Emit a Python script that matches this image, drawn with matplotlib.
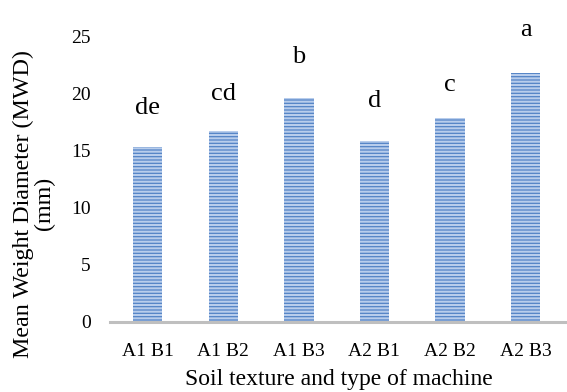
import matplotlib
matplotlib.use("Agg")
import matplotlib.pyplot as plt

# Mean weight diameter per soil texture / machine combination
groups = ["A1 B1", "A1 B2", "A1 B3", "A2 B1", "A2 B2", "A2 B3"]
mwd = [15.3, 16.7, 19.6, 15.9, 17.9, 21.8]
letters = ["de", "cd", "b", "d", "c", "a"]
letter_heights = [18.8, 20.0, 23.2, 19.4, 20.8, 25.6]
yticks = [0, 5, 10, 15, 20, 25]

plt.rcParams["font.family"] = ["Liberation Serif", "DejaVu Serif"]
plt.rcParams["hatch.linewidth"] = 1.5
plt.rcParams["hatch.color"] = "#b8cdec"

fig = plt.figure(figsize=(5.67, 3.92), dpi=100)
ax = fig.add_axes([0.194, 0.179, 0.806, 0.727])

x = range(len(groups))
ax.bar(x, mwd, width=0.39, color="#5383c6", hatch="-----", linewidth=0)

for i, (lab, h) in enumerate(zip(letters, letter_heights)):
    ax.text(i, h, lab, ha="center", va="center", fontsize=19, clip_on=False)

ax.set_xlim(-0.5, len(groups) - 0.45)
ax.set_ylim(0, 25)
ax.set_yticks(yticks)
ax.set_xticks(list(x))
ax.set_xticklabels(groups)
ax.tick_params(axis="both", length=0, labelsize=14)
ax.tick_params(axis="y", pad=14)
ax.tick_params(axis="x", pad=15)

for side in ("left", "right", "top"):
    ax.spines[side].set_visible(False)
ax.spines["bottom"].set_color("#bfbfbf")
ax.spines["bottom"].set_linewidth(2.2)

ax.set_ylabel("Mean Weight Diameter (MWD)\n(mm)", fontsize=17.3,
              linespacing=1.0, va="center")
ax.yaxis.set_label_coords(-0.166, 0.415)
ax.set_xlabel("Soil texture and type of machine", fontsize=17, va="center")
ax.xaxis.set_label_coords(0.501, -0.204)

fig.savefig("out.png", dpi=100)
